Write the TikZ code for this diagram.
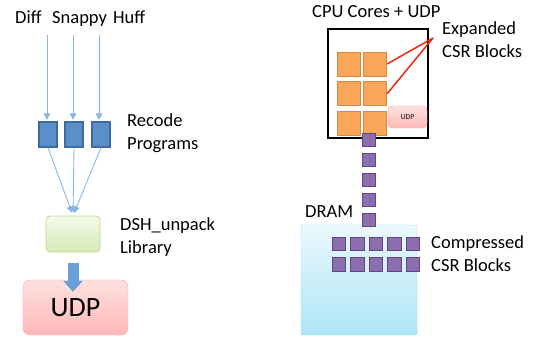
\documentclass[tikz,border=0pt]{standalone}
\usepackage{fontspec}
\setmainfont{Carlito}
\usepackage{tikz}
\usetikzlibrary{matrix,positioning,arrows.meta}

\definecolor{flowline}{HTML}{8DB4E2}
\definecolor{recfill}{HTML}{5B8FC9}
\definecolor{recedge}{HTML}{3E6C9E}
\definecolor{pushblue}{HTML}{6A9FDA}
\definecolor{libtop}{HTML}{F5FAEA}
\definecolor{libbottom}{HTML}{D5EBB8}
\definecolor{libedge}{HTML}{BCD990}
\definecolor{coreorange}{HTML}{F9A65A}
\definecolor{coreedge}{HTML}{D9893A}
\definecolor{bitpurple}{HTML}{8C6DAE}
\definecolor{bitedge}{HTML}{5F4785}
\definecolor{linkred}{HTML}{F2260E}
\definecolor{dramtop}{HTML}{EBF9FD}
\definecolor{drambottom}{HTML}{ADE5F6}
\definecolor{dramedge}{HTML}{A3D3E6}

\begin{document}
\begin{tikzpicture}[x=1pt,y=-1pt,font=\fontsize{18.5}{23}\selectfont,
txt/.style={inner sep=0pt,align=left},
flow/.style={draw=flowline,line width=0.9pt,-{Triangle[width=6.5pt,length=6.5pt]}},
recode/.style={draw=recedge,fill=recfill,line width=1.2pt,minimum width=18pt,minimum height=25pt,inner sep=0pt},
udpbox/.style={draw=red!35,rounded corners=7pt,top color=red!12,bottom color=red!28},
core/.style={draw=coreedge,fill=coreorange,line width=0.8pt,minimum width=23pt,minimum height=24pt,inner sep=0pt},
bit/.style={draw=bitedge,fill=bitpurple,line width=1pt,minimum size=13.5pt,inner sep=0pt},
cores/.style={matrix of nodes,nodes={core},column sep=3pt,row sep=5pt,nodes in empty cells},
bits/.style={matrix of nodes,nodes={bit},column sep=4pt,row sep=6pt,nodes in empty cells}]
\useasboundingbox (0,0) rectangle (540,341);

% left: decoders down to the UDP
\node[txt,anchor=base west] (diff) at (15,23) {Diff};
\node[txt,anchor=base west] (snappy) at (52,23) {Snappy};
\node[txt,anchor=base west] (huff) at (113,23) {Huff};
\coordinate (in-1) at (47,35);
\coordinate (in-2) at (73,35);
\coordinate (in-3) at (99,35);
\node[recode] (rec-1) at (48,134.5) {};
\node[recode] (rec-2) at (74,134.5) {};
\node[recode] (rec-3) at (101,134.5) {};
\foreach \i in {1,2,3}
  \draw[flow,shorten >=1.5pt] (in-\i) -- (rec-\i.north -| in-\i);
\node[txt,anchor=west] (recodelbl) at (127,133) {Recode\\Programs};

\node[draw=libedge,line width=0.8pt,rounded corners=4pt,top color=libtop,bottom color=libbottom,
  minimum width=54pt,minimum height=36pt] (dsh) at (73,234) {};
\foreach \i in {1,2,3}
  \draw[flow,shorten >=3pt] (rec-\i.south) -- (dsh.north);
\node[txt,anchor=west] (dshlbl) at (120,237) {DSH\_unpack\\Library};

\node[udpbox,minimum width=105pt,minimum height=55pt,font=\fontsize{28}{30}\selectfont] (udp) at (75.5,307.5) {UDP};
% fat arrow, library into the UDP
\draw[pushblue,line width=11pt,-{Triangle[width=19pt,length=11pt]}]
  ([yshift=-11pt]dsh.south) -- ([yshift=-12pt]udp.north -| dsh.south);

% right: chip and memory
\node[txt,anchor=base west] (cpulbl) at (312,17) {CPU Cores + UDP};
\node[draw,line width=1.8pt,fill=white,minimum width=100pt,minimum height=109pt] (chip) at (378,83.5) {};
\matrix[cores,anchor=north west] (cores) at (333,48) {
 & \\
 & \\
 & \\};
\node[udpbox,rounded corners=4pt,minimum width=39pt,minimum height=22pt,font=\fontsize{7.5}{9}\selectfont] (udpsmall) at (407.5,117) {UDP};
\node[txt,anchor=west] (explbl) at (442,40) {Expanded\\CSR Blocks};
\coordinate (exptip) at (433,38);
\draw[linkred,line width=1.5pt] (exptip) -- (cores-1-2.east);
\draw[linkred,line width=1.5pt] (exptip) -- (cores-2-2.east);

\node[draw=dramedge,rounded corners=1.5pt,top color=dramtop,bottom color=drambottom,
  minimum width=116pt,minimum height=110pt] (dram) at (359,280) {};
\node[txt,anchor=base west] (dramlbl) at (305,217) {DRAM};
\foreach \i in {0,...,4}
  \node[bit] (link-\i) at (369,140+20*\i) {};
\matrix[bits,anchor=north west] (blocks) at (328,233) {
 & & & & \\
 & & & & \\};
\node[txt,anchor=west] (complbl) at (431,254) {Compressed\\CSR Blocks};
\end{tikzpicture}
\end{document}
